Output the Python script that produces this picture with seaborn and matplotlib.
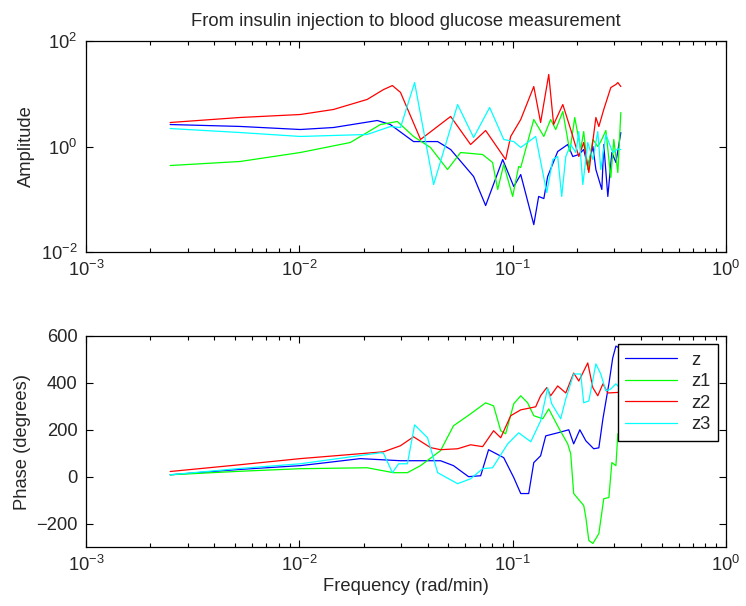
import numpy as np
import pandas as pd
import matplotlib
matplotlib.use("Agg")
import matplotlib.pyplot as plt
import seaborn as sns
from matplotlib.ticker import LogLocator, FixedLocator, NullLocator

# ---------------- data ----------------
series_names = ["z", "z1", "z2", "z3"]
series_colors = ["#0000ff", "#00ff00", "#ff0000", "#00ffff"]

# amplitude
z_amp_f = [0.00248, 0.00528, 0.0101, 0.01445, 0.0232, 0.0267, 0.0343, 0.0445, 0.0512, 0.0656,
           0.0747, 0.0898, 0.1012, 0.1091, 0.1256, 0.1324, 0.1400, 0.1459, 0.1626, 0.1811,
           0.1914, 0.2042, 0.2153, 0.2249, 0.2377, 0.2455, 0.2618, 0.2673, 0.2793, 0.2917,
           0.3048, 0.3214]
z_amp = [2.61, 2.40, 2.10, 2.29, 3.11, 2.61, 1.24, 1.24, 0.877, 0.270,
         0.076, 0.567, 0.174, 0.294, 0.033, 0.113, 0.103, 0.270, 0.804, 1.09,
         0.646, 0.705, 0.877, 0.418, 1.0, 0.366, 0.153, 1.09, 0.113, 0.769,
         0.498, 1.84]

z1_amp_f = [0.00248, 0.00528, 0.0101, 0.01733, 0.0240, 0.0288, 0.0343, 0.0412, 0.0495, 0.0570,
            0.0723, 0.0805, 0.0851, 0.0908, 0.1000, 0.1067, 0.1091, 0.1256, 0.1400, 0.1507,
            0.1592, 0.1718, 0.1853, 0.1954, 0.2084, 0.2153, 0.2249, 0.2377, 0.2506, 0.2588,
            0.2735, 0.2884, 0.2979, 0.3112, 0.3214]
z1_amp = [0.436, 0.52, 0.769, 1.19, 2.61, 2.98, 1.55, 0.957, 0.366, 0.769,
          0.705, 0.498, 0.153, 0.456, 0.113, 0.418, 0.40, 3.25, 1.55, 3.25,
          2.10, 4.61, 0.804, 3.55, 0.877, 1.92, 0.366, 1.36, 1.0, 1.24,
          2.01, 0.258, 1.36, 0.321, 4.41]

z2_amp_f = [0.00248, 0.00528, 0.0101, 0.01445, 0.0208, 0.0248, 0.0273, 0.0298, 0.0370, 0.0512,
            0.0635, 0.0747, 0.0927, 0.0979, 0.1091, 0.1256, 0.1352, 0.1476, 0.1556, 0.1718,
            0.1871, 0.2042, 0.2153, 0.2275, 0.2455, 0.2535, 0.2673, 0.2884, 0.3048, 0.3112,
            0.3214]
z2_amp = [2.85, 3.55, 4.04, 5.03, 7.8, 12.0, 14.3, 10.6, 1.36, 3.71,
          1.09, 2.01, 0.567, 1.55, 3.25, 13.7, 2.85, 23.2, 2.61, 6.25,
          2.10, 0.646, 1.19, 0.321, 3.55, 2.39, 5.03, 13.1, 15.0, 16.3,
          13.7]

z3_amp_f = [0.00248, 0.00528, 0.0101, 0.0208, 0.0267, 0.0298, 0.0347, 0.0426, 0.0552, 0.0656,
            0.0780, 0.0908, 0.1012, 0.1091, 0.1282, 0.1445, 0.1542, 0.1626, 0.1698, 0.1774,
            0.1871, 0.1977, 0.2042, 0.2133, 0.2249, 0.2377, 0.2506, 0.2588, 0.2735, 0.2944,
            0.3112, 0.3214]
z3_amp = [2.19, 1.84, 1.55, 1.69, 2.39, 2.29, 16.3, 0.19, 6.25, 1.48,
          5.49, 1.36, 1.24, 0.957, 1.55, 0.134, 0.567, 0.646, 0.113, 0.646,
          1.09, 0.769, 1.92, 0.190, 1.19, 0.567, 1.92, 0.366, 1.69, 0.769,
          0.9, 0.877]

# phase (degrees)
z_ph_f = [0.00248, 0.00528, 0.0101, 0.01257, 0.0193, 0.0298, 0.0459, 0.0528, 0.0621, 0.0708,
          0.0771, 0.0908, 0.1012, 0.1091, 0.1189, 0.1256, 0.1352, 0.1429, 0.1626, 0.1832,
          0.1932, 0.2065, 0.2203, 0.2399, 0.2535, 0.2649, 0.2825, 0.2944, 0.3048, 0.3214]
z_ph = [8, 31, 47, 57, 77, 68, 68, 47, 0, 4,
        115, 81, -4, -72, -72, 60, 89, 174, 187, 200,
        140, 200, 153, 119, 123, 247, 396, 506, 557, 545]

z1_ph_f = [0.00248, 0.00528, 0.0101, 0.0208, 0.0276, 0.0321, 0.0370, 0.0459, 0.0528, 0.0635,
           0.0747, 0.0814, 0.0879, 0.0927, 0.1012, 0.1091, 0.1175, 0.1256, 0.1384, 0.1476,
           0.1644, 0.1811, 0.1871, 0.1932, 0.2153, 0.2203, 0.2275, 0.2377, 0.2535, 0.2673,
           0.2825, 0.2917, 0.3048, 0.3112, 0.3214]
z1_ph = [8, 23, 34, 38, 17, 17, 47, 111, 217, 268,
         315, 302, 196, 183, 311, 345, 315, 260, 247, 289,
         208, 140, 98, -72, -123, -174, -272, -285, -243, -94,
         -89, 60, 47, 183, 183]

z2_ph_f = [0.00248, 0.00528, 0.0101, 0.0248, 0.0298, 0.0343, 0.0412, 0.0459, 0.0552, 0.0635,
           0.0723, 0.0814, 0.0879, 0.0979, 0.1091, 0.1282, 0.1352, 0.1445, 0.1507, 0.1626,
           0.1774, 0.1932, 0.2042, 0.2249, 0.2377, 0.2506, 0.2649, 0.2793, 0.3214]
z2_ph = [22, 51, 77, 106, 132, 170, 124, 115, 119, 136,
         128, 196, 166, 260, 285, 298, 345, 380, 345, 387,
         357, 442, 408, 485, 379, 345, 396, 357, 360]

z3_ph_f = [0.00248, 0.00528, 0.0101, 0.0240, 0.0248, 0.0273, 0.0292, 0.0321, 0.0347, 0.0399,
           0.0445, 0.0552, 0.0635, 0.0723, 0.0805, 0.0948, 0.1067, 0.1216, 0.1352, 0.1459,
           0.1524, 0.1679, 0.1774, 0.1932, 0.2084, 0.2153, 0.2275, 0.2455, 0.2588, 0.2735,
           0.2884, 0.3048, 0.3214]
z3_ph = [8, 35, 55, 102, 100, 17, 55, 55, 221, 166,
         17, -30, -9, 34, 38, 140, 187, 149, 238, 379,
         311, 247, 332, 438, 438, 315, 323, 481, 438, 366,
         374, 396, 375]

title_text = "From insulin injection to blood glucose measurement"
amp_label = "Amplitude"
phase_label = "Phase (degrees)"
freq_label = "Frequency (rad/min)"

# ---------------- build frames ----------------
def frame(fs, vs, name):
    return pd.DataFrame({"freq": fs, "val": vs, "series": name})

amp_df = pd.concat([frame(z_amp_f, z_amp, "z"),
                    frame(z1_amp_f, z1_amp, "z1"),
                    frame(z2_amp_f, z2_amp, "z2"),
                    frame(z3_amp_f, z3_amp, "z3")], ignore_index=True)
ph_df = pd.concat([frame(z_ph_f, z_ph, "z"),
                   frame(z1_ph_f, z1_ph, "z1"),
                   frame(z2_ph_f, z2_ph, "z2"),
                   frame(z3_ph_f, z3_ph, "z3")], ignore_index=True)

# ---------------- style ----------------
sns.set_style("ticks")
plt.rcParams["font.family"] = ["Liberation Sans", "DejaVu Sans"]
plt.rcParams["mathtext.fontset"] = "custom"
plt.rcParams["mathtext.rm"] = "Liberation Sans"
plt.rcParams["mathtext.it"] = "Liberation Sans:italic"
plt.rcParams["mathtext.bf"] = "Liberation Sans:bold"
FS = 13.2

fig = plt.figure(figsize=(7.46, 6.06), dpi=100)
ax1 = fig.add_axes([86/746, 1-252/606, 640/746, 211/606])
ax2 = fig.add_axes([86/746, 1-547/606, 640/746, 211/606])

palette = dict(zip(series_names, series_colors))

sns.lineplot(data=amp_df, x="freq", y="val", hue="series", hue_order=series_names,
             palette=palette, estimator=None, sort=False, lw=0.9, ax=ax1, legend=False)
sns.lineplot(data=ph_df, x="freq", y="val", hue="series", hue_order=series_names,
             palette=palette, estimator=None, sort=False, lw=0.9, ax=ax2, legend=True)

for ax in (ax1, ax2):
    ax.set_xscale("log")
    ax.set_xlim(1e-3, 1)
    ax.xaxis.set_major_locator(LogLocator(base=10, numticks=10))
    ax.xaxis.set_minor_locator(LogLocator(base=10, subs=np.arange(2, 10), numticks=10))
    ax.tick_params(which="both", direction="in", top=True, right=True,
                   labelsize=FS, width=0.8, color="black", pad=6)
    ax.tick_params(which="major", length=5)
    ax.tick_params(which="minor", length=3)
    for s in ax.spines.values():
        s.set_linewidth(0.9)
        s.set_color("black")
    ax.set_xlabel("")

ax1.set_yscale("log")
ax1.set_ylim(1e-2, 1e2)
ax1.yaxis.set_major_locator(FixedLocator([1e-2, 1, 1e2]))
ax1.yaxis.set_minor_locator(NullLocator())
ax1.set_ylabel(amp_label, fontsize=FS, labelpad=4)
ax1.set_title(title_text, fontsize=FS, pad=11)

ax2.set_ylim(-300, 600)
ax2.set_yticks([-200, 0, 200, 400, 600])
ax2.set_ylabel(phase_label, fontsize=FS, labelpad=4)
ax2.set_xlabel(freq_label, fontsize=FS, labelpad=2)

leg = ax2.legend(loc="upper right", fontsize=FS, frameon=True, fancybox=False,
                 edgecolor="black", framealpha=1, handlelength=2.8, handletextpad=0.8,
                 labelspacing=0.25, borderaxespad=0.45, borderpad=0.4)
leg.get_frame().set_linewidth(1.0)
for h in leg.get_lines():
    h.set_linewidth(0.9)

fig.savefig("out.png", dpi=100)
